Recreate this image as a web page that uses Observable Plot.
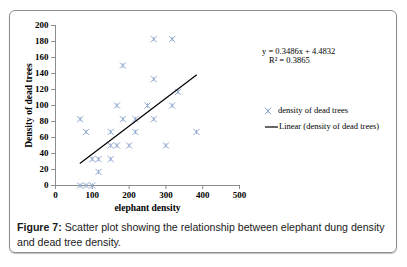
<!DOCTYPE html>
<html>
<head>
<meta charset="utf-8">
<script src="https://cdn.jsdelivr.net/npm/d3@7"></script>
<script src="https://cdn.jsdelivr.net/npm/@observablehq/plot@0.6"></script>
<style>
  html, body { margin: 0; padding: 0; background: #fff; }
  body { width: 407px; height: 267px; position: relative; overflow: hidden; }
  #box { position: absolute; left: 9px; top: 10px; width: 386px; height: 241px;
         border: 1px solid #8e8e8e; border-radius: 6px; box-shadow: 0 1px 1px rgba(0,0,0,0.25); }
  #chart { position: absolute; left: 0; top: 0; }
  #chart svg text { font-family: "Liberation Serif", "Times New Roman", serif !important; }
  .serif { font-family: "Liberation Serif", "Times New Roman", serif; font-size: 8.5px; color: #000; position: absolute; white-space: nowrap; line-height: 9px; }
  #caption { position: absolute; left: 17px; top: 220px; width: 385px; font-family: "Liberation Sans", Arial, sans-serif;
             font-size: 10.6px; line-height: 15px; color: #1a1a1a; }
</style>
</head>
<body>
<div id="box"></div>
<div id="chart"></div>
<div class="serif" style="left:262px; top:47px;">y = 0.3486x + 4.4832</div>
<div class="serif" style="left:269px; top:56px;">R² = 0.3865</div>
<svg style="position:absolute; left:263px; top:106px;" width="10" height="10">
  <path d="M1.8,1.8L8.2,8.2M8.2,1.8L1.8,8.2M5,2.8L5,7.2" stroke="#94acd2" stroke-width="1" fill="none"/>
</svg>
<div class="serif" style="left:278px; top:106px;">density of dead trees</div>
<svg style="position:absolute; left:265px; top:122px;" width="14" height="10">
  <path d="M0,5L13,5" stroke="#000" stroke-width="1.2"/>
</svg>
<div class="serif" style="left:279px; top:122px;">Linear (density of dead trees)</div>
<div id="caption"><b>Figure 7:</b> Scatter plot showing the relationship between elephant dung density and dead tree density.</div>
<script>
// Data
const elephantDensity = [67, 83, 67, 83, 100, 100, 117, 117, 150, 150, 150, 167, 167, 183, 183, 200, 217, 217, 250, 267, 267, 267, 300, 317, 317, 333, 383];
const deadTreeDensity = [83, 67, 0, 0, 0, 33, 33, 17, 67, 50, 33, 50, 100, 150, 83, 50, 83, 67, 100, 183, 133, 83, 50, 183, 100, 117, 67];
const xTicks = [0, 100, 200, 300, 400, 500];
const yTicks = [0, 20, 40, 60, 80, 100, 120, 140, 160, 180, 200];
const slope = 0.3486;
const intercept = 4.4832;
const xTitle = "elephant density";
const yTitle = "Density of dead trees";

const points = elephantDensity.map((x, i) => ({x, y: deadTreeDensity[i]}));
const [xmin, xmax] = d3.extent(elephantDensity);
const trend = [xmin, xmax].map(x => ({x, y: slope * x + intercept}));

const starSymbol = {
  draw(context, size) {
    const r = Math.sqrt(size / Math.PI);
    context.moveTo(-r, -r); context.lineTo(r, r);
    context.moveTo(r, -r); context.lineTo(-r, r);
    context.moveTo(0, -r * 0.7); context.lineTo(0, r * 0.7);
  }
};

const serif = '"Liberation Serif", "Times New Roman", serif';

const chart = Plot.plot({
  width: 407,
  height: 215,
  marginLeft: 55,
  marginRight: 168,
  marginTop: 25,
  marginBottom: 30,
  style: {fontFamily: serif, fontSize: "9px", fontWeight: "bold", background: "transparent", overflow: "visible", color: "#000"},
  x: {domain: [0, 500], label: null},
  y: {domain: [0, 200], label: null},
  marks: [
    Plot.axisX({ticks: xTicks, tickSize: 4, tickPadding: 2, stroke: "#8c8c8c", fill: "#000", tickFormat: d => d, label: null, fontWeight: "bold"}),
    Plot.axisY({ticks: yTicks, tickSize: 4, tickPadding: 3, stroke: "#8c8c8c", fill: "#000", tickFormat: d => d, label: null, fontWeight: "bold"}),
    Plot.ruleY([0], {stroke: "#8c8c8c"}),
    Plot.ruleX([0], {stroke: "#8c8c8c"}),
    Plot.dot(points, {x: "x", y: "y", symbol: starSymbol, r: 3.1, fill: "none", stroke: "#94acd2", strokeWidth: 1}),
    Plot.line(trend, {x: "x", y: "y", stroke: "#000", strokeWidth: 1.2}),
    Plot.text([xTitle], {frameAnchor: "bottom", dy: 22, text: d => d, textAnchor: "middle", lineAnchor: "middle", fontWeight: "bold", fontSize: 9.5, fill: "#000"}),
    Plot.text([yTitle], {frameAnchor: "left", dx: -27, rotate: -90, text: d => d, textAnchor: "middle", lineAnchor: "middle", fontWeight: "bold", fontSize: 9.5, fill: "#000"})
  ]
});
document.getElementById("chart").appendChild(chart);
</script>
</body>
</html>
